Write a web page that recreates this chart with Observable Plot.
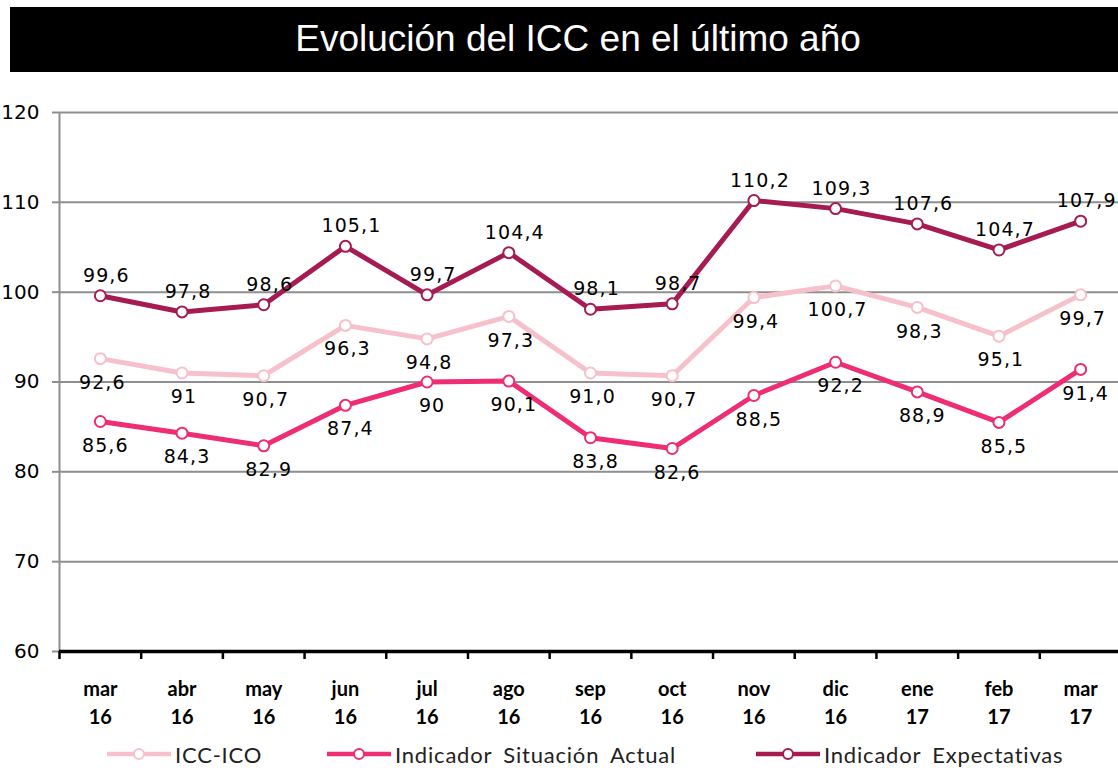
<!DOCTYPE html>
<html>
<head>
<meta charset="utf-8">
<script src="https://cdn.jsdelivr.net/npm/d3@7"></script>
<script src="https://cdn.jsdelivr.net/npm/@observablehq/plot@0.6"></script>
<style>
  html, body { margin: 0; padding: 0; background: #fff; width: 1118px; height: 768px; overflow: hidden; }
  #title { margin: 7px 0 0 10px; height: 65px; background: #000; color: #fff;
    font-family: "Liberation Sans", Arial, sans-serif; font-size: 37px; line-height: 64px;
    text-align: center; padding-left: 28px; box-sizing: border-box; }
  #chart svg g[aria-label="text"] text { letter-spacing: 1.1px; }
  #legend { position: relative; height: 28px; font-family: Lato, "Open Sans", sans-serif; font-size: 22px; color: #222; }
  #legend .item { position: absolute; top: 0; height: 28px; display: flex; align-items: center; white-space: nowrap; word-spacing: 5px; letter-spacing: 0.8px; }
  #legend svg { margin-right: 4px; }
</style>
</head>
<body>
<div id="title">Evolución del ICC en el último año</div>
<div id="chart"></div>
<div id="legend"></div>
<script>
const months = ["mar","abr","may","jun","jul","ago","sep","oct","nov","dic","ene","feb","mar"];
const years  = ["16","16","16","16","16","16","16","16","16","16","17","17","17"];

const iccValues      = [92.6, 91.0, 90.7, 96.3, 94.8, 97.3, 91.0, 90.7, 99.4, 100.7, 98.3, 95.1, 99.7];
const actualValues   = [85.6, 84.3, 82.9, 87.4, 90.0, 90.1, 83.8, 82.6, 88.5, 92.2, 88.9, 85.5, 91.4];
const expectValues   = [99.6, 97.8, 98.6, 105.1, 99.7, 104.4, 98.1, 98.7, 110.2, 109.3, 107.6, 104.7, 107.9];

const iccLabels    = ["92,6","91","90,7","96,3","94,8","97,3","91,0","90,7","99,4","100,7","98,3","95,1","99,7"];
const actualLabels = ["85,6","84,3","82,9","87,4","90","90,1","83,8","82,6","88,5","92,2","88,9","85,5","91,4"];
const expectLabels = ["99,6","97,8","98,6","105,1","99,7","104,4","98,1","98,7","110,2","109,3","107,6","104,7","107,9"];

const seriesNames = ["ICC-ICO", "Indicador  Situación Actual", "Indicador  Expectativas"];
const seriesColors = ["#F6C1CB", "#EE2D74", "#A51B52"];

const yTicks = [60, 70, 80, 90, 100, 110, 120];

const rows = (vals, labs) => vals.map((v, i) => ({i, value: v, label: labs[i]}));
const icc = rows(iccValues, iccLabels);
const actual = rows(actualValues, actualLabels);
const expect = rows(expectValues, expectLabels);

const lineOpts = (c) => ({x: "i", y: "value", stroke: c, strokeWidth: 5, strokeLinejoin: "round", strokeLinecap: "round"});
const dotOpts = (c) => ({x: "i", y: "value", r: 5.5, fill: "#fff", stroke: c, strokeWidth: 2});
const textOpts = {x: "i", y: "value", text: "label", fontSize: 19, fontFamily: "DejaVu Sans, Verdana, sans-serif", fill: "#000"};

const chart = Plot.plot({
  width: 1118,
  height: 668,
  marginTop: 40,
  marginBottom: 89,
  marginLeft: 59,
  marginRight: -3,
  x: {type: "linear", domain: [-0.5, 12.5], label: null},
  y: {domain: [60, 120], label: null},
  marks: [
    Plot.gridY(yTicks, {stroke: "#8e8e8e", strokeOpacity: 1, strokeWidth: 2}),
    Plot.ruleX([-0.5], {stroke: "#8e8e8e", strokeWidth: 2}),
    Plot.axisY(yTicks, {tickSize: 7, tickPadding: 13, stroke: "#8e8e8e", strokeWidth: 2, fill: "#000", label: null,
      fontSize: 20, fontFamily: "DejaVu Sans, Verdana, sans-serif", tickFormat: d => String(d)}),
    Plot.ruleY([60], {stroke: "#000", strokeWidth: 3.5}),
    Plot.axisX(d3.range(14).map(i => i - 0.5), {tickSize: 8, stroke: "#000", strokeWidth: 2.5, tickFormat: () => "", label: null}),
    Plot.axisX(d3.range(13), {tickSize: 0, tickPadding: 25, fill: "#000", label: null,
      tickFormat: i => months[i] + "\n" + years[i],
      fontSize: 20, fontWeight: "bold", fontFamily: "Lato, sans-serif", lineHeight: 1.4}),
    Plot.line(icc, lineOpts(seriesColors[0])),
    Plot.line(actual, lineOpts(seriesColors[1])),
    Plot.line(expect, lineOpts(seriesColors[2])),
    Plot.dot(icc, dotOpts(seriesColors[0])),
    Plot.dot(actual, dotOpts(seriesColors[1])),
    Plot.dot(expect, dotOpts(seriesColors[2])),
    Plot.text(icc, {...textOpts, dx: 2, dy: 24}),
    Plot.text(actual, {...textOpts, dx: 5, dy: 24}),
    Plot.text(expect, {...textOpts, dx: 6, dy: -20})
  ]
});
document.getElementById("chart").appendChild(chart);

// legend
const legend = document.getElementById("legend");
const legendLeft = [107, 327, 756];
seriesNames.forEach((name, k) => {
  const item = document.createElement("div");
  item.className = "item";
  item.style.left = legendLeft[k] + "px";
  item.innerHTML = `<svg width="64" height="20"><line x1="0" x2="64" y1="10" y2="10" stroke="${seriesColors[k]}" stroke-width="4.5"/><circle cx="32" cy="10" r="5" fill="#fff" stroke="${seriesColors[k]}" stroke-width="2"/></svg><span>${name}</span>`;
  legend.appendChild(item);
});
</script>
</body>
</html>
